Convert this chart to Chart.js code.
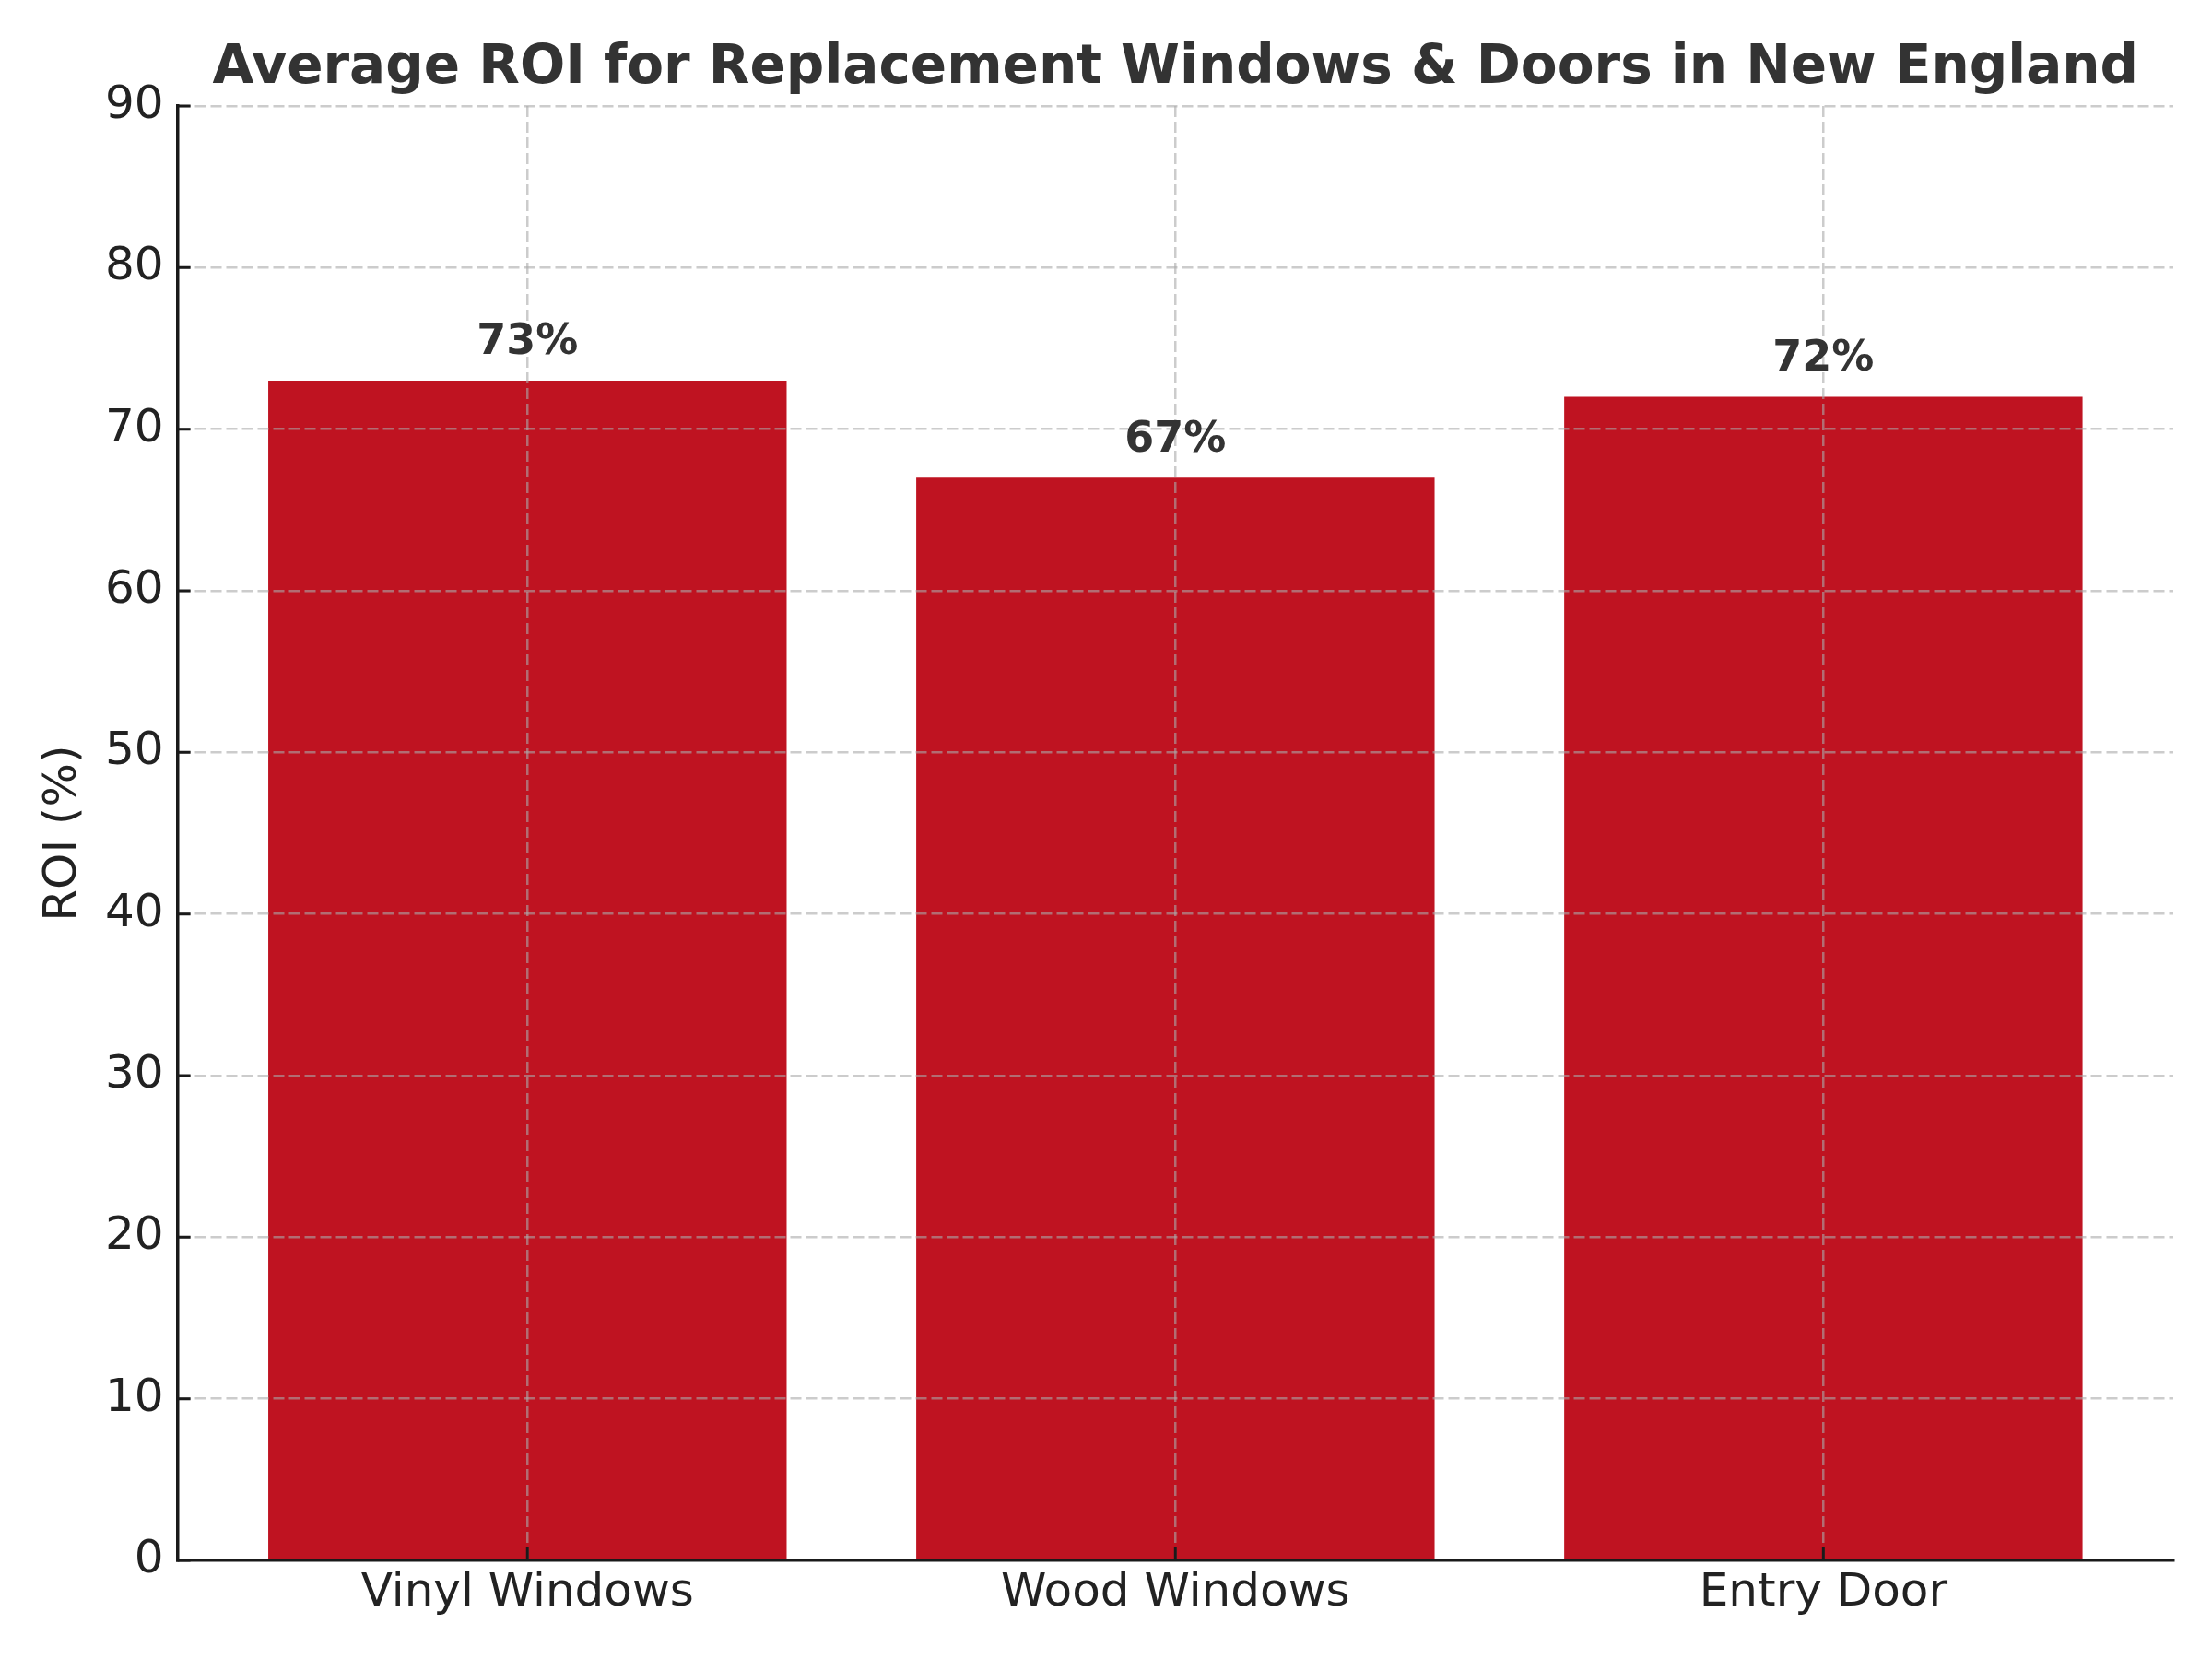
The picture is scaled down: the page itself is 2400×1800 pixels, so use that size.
<!DOCTYPE html>
<html>
<head>
<meta charset="utf-8">
<title>Average ROI for Replacement Windows &amp; Doors in New England</title>
<script src="https://cdn.jsdelivr.net/npm/chart.js@4.4.1/dist/chart.umd.min.js"></script>
<style>
  html, body { margin: 0; padding: 0; background: #ffffff; }
  #wrap { width: 2400px; height: 1800px; }
</style>
</head>
<body>
<div id="wrap"><canvas id="roi-chart" width="2400" height="1800"></canvas></div>
<script>
// Chart data
const categories = ['Vinyl Windows', 'Wood Windows', 'Entry Door'];
const roiValues = [73, 67, 72];
const yMin = 0;
const yMax = 90;
const yStep = 10;
const chartTitle = 'Average ROI for Replacement Windows & Doors in New England';
const yAxisTitle = 'ROI (%)';

const fontFamily = '"DejaVu Sans", sans-serif';
const gridColor = 'rgba(170, 170, 170, 0.6)';
const axisColor = '#1a1a1a';

// Title centred over the plot area (like matplotlib does)
const plotTitle = {
    id: 'plotTitle',
    afterDraw(chart) {
        const { ctx, chartArea } = chart;
        ctx.save();
        ctx.font = 'bold 58px ' + fontFamily;
        ctx.fillStyle = '#333333';
        ctx.textAlign = 'center';
        ctx.textBaseline = 'alphabetic';
        ctx.fillText(chartTitle, (chartArea.left + chartArea.right) / 2, chartArea.top - 25);
        ctx.restore();
    }
};

// Percent labels above each bar
const valueLabels = {
    id: 'valueLabels',
    afterDraw(chart) {
        const ctx = chart.ctx;
        const yScale = chart.scales.y;
        const meta = chart.getDatasetMeta(0);
        ctx.save();
        ctx.font = 'bold 46px ' + fontFamily;
        ctx.fillStyle = '#333333';
        ctx.textAlign = 'center';
        ctx.textBaseline = 'bottom';
        meta.data.forEach((bar, i) => {
            ctx.fillText(roiValues[i] + '%', bar.x, yScale.getPixelForValue(roiValues[i] + 1));
        });
        ctx.restore();
    }
};

// Inward tick marks on both axes
const innerTicks = {
    id: 'innerTicks',
    afterDraw(chart) {
        const { ctx } = chart;
        const { x, y } = chart.scales;
        const left = y.right;
        const bottom = x.top;
        ctx.save();
        ctx.strokeStyle = axisColor;
        ctx.lineWidth = 3;
        ctx.beginPath();
        y.ticks.forEach(t => {
            const py = y.getPixelForValue(t.value);
            ctx.moveTo(left, py);
            ctx.lineTo(left + 14, py);
        });
        x.ticks.forEach(t => {
            const px = x.getPixelForValue(t.value);
            ctx.moveTo(px, bottom);
            ctx.lineTo(px, bottom - 14);
        });
        ctx.stroke();
        ctx.restore();
    }
};

new Chart(document.getElementById('roi-chart').getContext('2d'), {
    type: 'bar',
    data: {
        datasets: [{
            data: roiValues.map((v, i) => ({ x: i, y: v })),
            backgroundColor: '#BF1321',
            borderWidth: 0,
            categoryPercentage: 1,
            barPercentage: 0.8
        }]
    },
    options: {
        responsive: false,
        devicePixelRatio: 1,
        animation: false,
        layout: { padding: { top: 115, right: 42, bottom: 35, left: 18 } },
        plugins: {
            legend: { display: false },
            tooltip: { enabled: false },
            title: { display: false }
        },
        scales: {
            x: {
                type: 'linear',
                offset: false,
                min: -0.54,
                max: 2.54,
                afterBuildTicks: scale => {
                    scale.ticks = categories.map((c, i) => ({ value: i }));
                },
                ticks: {
                    callback: v => categories[v],
                    font: { family: fontFamily, size: 50 },
                    color: '#222222',
                    padding: 6,
                    autoSkip: false,
                    maxRotation: 0
                },
                grid: { offset: false, color: gridColor, lineWidth: 2.5, drawTicks: false, z: 1 },
                border: { color: axisColor, width: 3.5, dash: [12, 5], z: 1 }
            },
            y: {
                min: yMin,
                max: yMax,
                ticks: {
                    stepSize: yStep,
                    font: { family: fontFamily, size: 50 },
                    color: '#222222',
                    padding: 15
                },
                grid: {
                    color: c => (c.tick && c.tick.value === 0) ? 'rgba(0,0,0,0)' : gridColor,
                    lineWidth: 2.5,
                    drawTicks: false,
                    z: 1
                },
                border: { color: axisColor, width: 3.5, dash: [12, 5], z: 1 },
                title: {
                    display: true,
                    text: yAxisTitle,
                    font: { family: fontFamily, size: 50 },
                    color: '#222222',
                    padding: { top: 21, bottom: 0 }
                }
            }
        }
    },
    plugins: [plotTitle, valueLabels, innerTicks]
});
</script>
</body>
</html>
